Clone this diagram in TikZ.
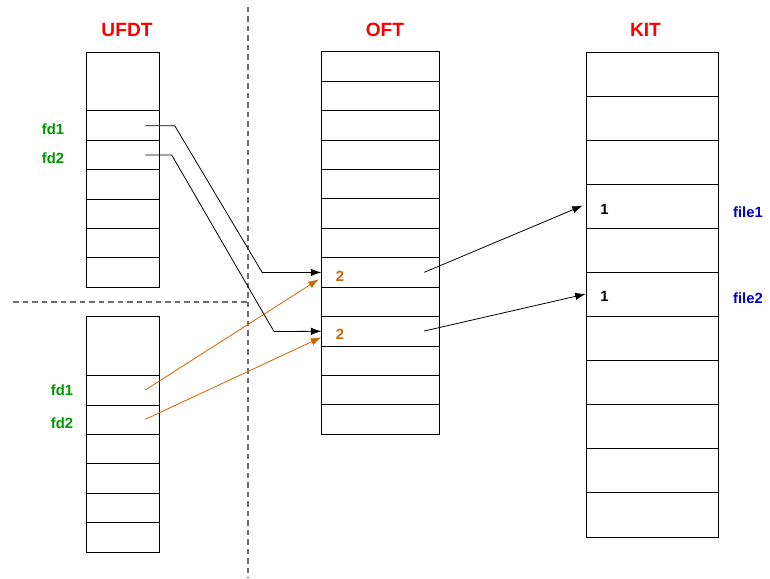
\documentclass[tikz,border=0pt]{standalone}
\usepackage{fontspec}
\setmainfont{Liberation Sans}
\usetikzlibrary{arrows.meta,calc}
\definecolor{ttl}{RGB}{255,0,0}
\definecolor{fdc}{RGB}{0,150,0}
\definecolor{filec}{RGB}{0,0,204}
\definecolor{orng}{RGB}{204,102,0}
\definecolor{dashc}{RGB}{110,110,110}
\begin{document}
\begin{tikzpicture}[x=1pt,y=-1pt,
  cellbox/.style={draw=black, line width=0.9pt, inner sep=0pt, outer sep=0pt, rectangle},
  ucell/.style={cellbox, minimum width=73.4pt, minimum height=29.43pt},
  ocell/.style={cellbox, minimum width=117.7pt, minimum height=29.43pt},
  kcell/.style={cellbox, minimum width=132.7pt, minimum height=44.09pt},
  ttltext/.style={text=ttl, font=\fontsize{19.2}{21}\selectfont\bfseries, inner sep=0pt},
  fdtext/.style={text=fdc, font=\fontsize{14.8}{16}\selectfont\bfseries, inner sep=0pt},
  filetext/.style={text=filec, font=\fontsize{14.8}{16}\selectfont\bfseries, inner sep=0pt},
  numtext/.style={font=\fontsize{14.8}{16}\selectfont\bfseries, inner sep=0pt},
  divider/.style={draw=dashc, line width=1.4pt, dash pattern=on 5.5pt off 4pt},
  blkarrow/.style={draw=black, line width=0.8pt, -{Latex[length=10.5pt,width=7.5pt]}},
  orarrow/.style={draw=orng, line width=0.8pt, -{Latex[length=10.5pt,width=7.5pt]}}
]
\useasboundingbox (0,0) rectangle (770,578);

% dividers
\coordinate (vtop) at (248,7);
\coordinate (vbot) at (248,578);
\coordinate (hleft) at (13,302);
\coordinate (hright) at (248,302);
\draw[divider] (vtop) -- (vbot);
\draw[divider] (hleft) -- (hright);

% titles
\node[ttltext] (tufdt) at (127,30) {UFDT};
\node[ttltext] (toft) at (385,30) {OFT};
\node[ttltext] (tkit) at (645.5,30) {KIT};

% UFDT upper
\node[ucell, minimum height=58.7pt] (ua0) at (123,81.35) {};
\foreach \i in {1,...,6}
  \node[ucell] (ua\i) at (123,{110.7+29.43*(\i-0.5)}) {};
% UFDT lower
\node[ucell, minimum height=59pt] (ub0) at (123,346.2) {};
\foreach \i in {1,...,6}
  \node[ucell, minimum height=29.38pt] (ub\i) at (123,{375.7+29.38*(\i-0.5)}) {};
% OFT
\foreach \i in {1,...,13}
  \node[ocell] (o\i) at (380.15,{51.7+29.43*(\i-0.5)}) {};
% KIT
\foreach \i in {1,...,11}
  \node[kcell] (k\i) at (652.35,{52+44.09*(\i-0.5)}) {};

% labels
\node[fdtext] (fa1) at (53,129.5) {fd1};
\node[fdtext] (fa2) at (53,158.7) {fd2};
\node[fdtext] (fb1) at (62,390.5) {fd1};
\node[fdtext] (fb2) at (62,423.5) {fd2};
\node[numtext, text=orng] (n1) at (340,276.5) {2};
\node[numtext, text=orng] (n2) at (340,334.5) {2};
\node[numtext] (c1) at (604.5,209) {1};
\node[numtext] (c2) at (604.5,296) {1};
\node[filetext] (f1) at (748,212.5) {file1};
\node[filetext] (f2) at (748,298.5) {file2};

% connector endpoints
\coordinate (sa1) at (145.3,125.7);
\coordinate (sa2) at (145.3,155);
\coordinate (sb1) at (145.3,390);
\coordinate (sb2) at (145.3,419.3);
\coordinate (so8) at (424.3,272.3);
\coordinate (so10) at (424.3,331);

% UFDT upper -> OFT
\draw[blkarrow] (sa1) -- (174.7,125.7) -- (262.3,272.6) -- (o8.west);
\draw[blkarrow] (sa2) -- (171.7,155) -- (274,331.5) -- (o10.west);
% UFDT lower -> OFT
\draw[orarrow] (sb1) -- ($(o8.west)+(-2.5,6.8)$);
\draw[orarrow] (sb2) -- ($(o10.west)+(0,6)$);
% OFT -> KIT
\draw[blkarrow] (so8) -- ($(k4.west)+(-3.3,-0.7)$);
\draw[blkarrow] (so10) -- ($(k6.west)+(-0.3,-0.5)$);
\end{tikzpicture}
\end{document}
